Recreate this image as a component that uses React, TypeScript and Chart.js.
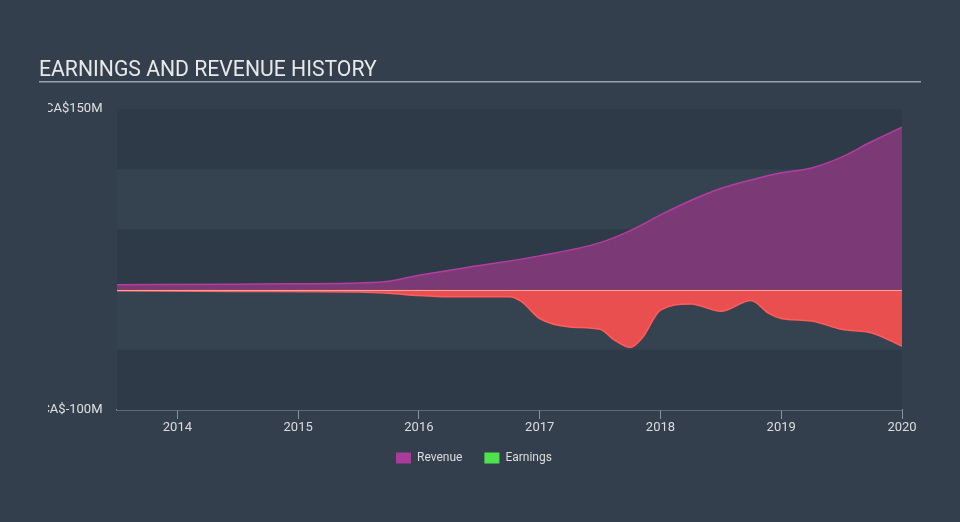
import React, { useEffect, useRef } from "react";
import { Chart, registerables } from "chart.js";

Chart.register(...registerables);

const TITLE = "EARNINGS AND REVENUE HISTORY";
const yTickValues = [150, 100, 50, 0, -50, -100];
const yTickLabels: Record<number, string> = { 150: "CA$150M", [-100]: "CA$-100M" };
const xTickYears = [2014, 2015, 2016, 2017, 2018, 2019, 2020];

const revenueX = [2013.5, 2014.5, 2015.0, 2015.5, 2015.75, 2016.0, 2016.5, 2017.0, 2017.5, 2017.75, 2018.0, 2018.25, 2018.5, 2018.75, 2019.0, 2019.25, 2019.5, 2019.75, 2020.0];
const revenueY = [4, 4.5, 4.8, 5.5, 7, 12, 20, 28, 39, 49, 62, 74, 84, 91, 97, 101, 110, 123, 135];

const earningsX = [2013.5, 2014.5, 2015.5, 2015.75, 2016.0, 2016.25, 2016.75, 2016.85, 2017.0, 2017.25, 2017.5, 2017.62, 2017.75, 2017.85, 2018.0, 2018.25, 2018.5, 2018.75, 2018.9, 2019.0, 2019.25, 2019.5, 2019.75, 2020.0];
const earningsY = [-1, -1.5, -2, -3, -5, -6, -6, -10, -24, -31, -33, -42, -48, -40, -17, -12, -18, -9, -20, -24, -26, -33, -36, -47];

const legendItems = [
  { label: "Revenue", color: "#a83c9b" },
  { label: "Earnings", color: "#4ee34e" },
];

const BG = "#333f4c";

const decorPlugin = {
  id: "decor",
  beforeDatasetsDraw(chart: any) {
    const { ctx, chartArea, scales } = chart;
    const y = scales.y;
    ctx.save();
    for (let i = 0; i < yTickValues.length - 1; i++) {
      const top = y.getPixelForValue(yTickValues[i]);
      const bot = y.getPixelForValue(yTickValues[i + 1]);
      ctx.fillStyle = i % 2 === 0 ? "#2e3a48" : "#354351";
      ctx.fillRect(chartArea.left, top, chartArea.right - chartArea.left, bot - top);
    }
    ctx.restore();
  },
  afterDatasetsDraw(chart: any) {
    const { ctx, chartArea, scales } = chart;
    const y0 = scales.y.getPixelForValue(0);
    ctx.save();
    ctx.strokeStyle = "rgba(250,170,170,0.9)";
    ctx.lineWidth = 1;
    ctx.beginPath();
    ctx.moveTo(chartArea.left, Math.round(y0) + 0.5);
    ctx.lineTo(chartArea.right, Math.round(y0) + 0.5);
    ctx.stroke();
    ctx.restore();
  },
  afterDraw(chart: any) {
    const { ctx, scales } = chart;
    ctx.save();
    // title
    ctx.fillStyle = "#e8e8e8";
    ctx.font = "21.2px Roboto";
    ctx.textBaseline = "alphabetic";
    ctx.textAlign = "left";
    ctx.fillText(TITLE, 39, 76);
    ctx.fillStyle = "#9aa3ad";
    ctx.fillRect(39, 81, 882, 1.5);
    // y labels, clipped
    ctx.beginPath();
    ctx.rect(48, 0, 200, chart.height);
    ctx.clip();
    ctx.fillStyle = "#e0e0e0";
    ctx.font = "13px Roboto";
    ctx.textAlign = "right";
    ctx.textBaseline = "middle";
    for (const v of yTickValues) {
      const lab = yTickLabels[v];
      if (lab) ctx.fillText(lab, 102.5, scales.y.getPixelForValue(v));
    }
    ctx.restore();
    // legend
    ctx.save();
    ctx.font = "12px Roboto";
    ctx.textBaseline = "middle";
    ctx.textAlign = "left";
    let x = 396;
    const cy = 458;
    for (const it of legendItems) {
      ctx.fillStyle = it.color;
      ctx.fillRect(x, cy - 5.5, 15, 11);
      ctx.fillStyle = "#dddddd";
      ctx.fillText(it.label, x + 21, cy);
      x += 21 + ctx.measureText(it.label).width + 22;
    }
    ctx.restore();
  },
};

export default function App() {
  const ref = useRef<HTMLCanvasElement | null>(null);
  useEffect(() => {
    if (!ref.current) return;
    const chart = new Chart(ref.current, {
      type: "line",
      data: {
        datasets: [
          {
            label: "Revenue",
            data: revenueX.map((x, i) => ({ x, y: revenueY[i] })),
            borderColor: "#b23fa0",
            backgroundColor: "#7b3a75",
            borderWidth: 1.5,
            fill: "origin",
            pointRadius: 0,
            cubicInterpolationMode: "monotone",
          },
          {
            label: "Earnings",
            data: earningsX.map((x, i) => ({ x, y: earningsY[i] })),
            borderColor: "#ff5c5c",
            backgroundColor: "#e94f4f",
            borderWidth: 1.5,
            fill: "origin",
            pointRadius: 0,
            cubicInterpolationMode: "monotone",
          },
        ],
      },
      options: {
        animation: false,
        responsive: false,
        maintainAspectRatio: false,
        layout: { padding: { left: 117, right: 58, top: 109, bottom: 72 } },
        plugins: { legend: { display: false }, tooltip: { enabled: false } },
        scales: {
          x: {
            type: "linear",
            min: 2013.5,
            max: 2020.0,
            afterBuildTicks: (s: any) => {
              s.ticks = xTickYears.map((v) => ({ value: v }));
            },
            afterFit: (s: any) => {
              s.height = 40;
            },
            grid: { drawOnChartArea: false, drawTicks: true, tickLength: 9, color: "#8a95a1" },
            border: { display: true, color: "#8a95a1", width: 1.5 },
            ticks: {
              color: "#dddddd",
              font: { family: "Roboto", size: 13 },
              padding: 1,
              maxRotation: 0,
              callback: (v: any) => String(v),
            },
          },
          y: {
            type: "linear",
            min: -100,
            max: 150,
            afterFit: (s: any) => {
              s.width = 0;
            },
            ticks: { display: false, stepSize: 50 },
            grid: { display: false },
            border: { display: false },
          },
        },
      },
      plugins: [decorPlugin],
    } as any);
    return () => chart.destroy();
  }, []);
  return (
    <div style={{ position: "fixed", left: 0, top: 0, width: 960, height: 522, background: BG }}>
      <canvas ref={ref} width={960} height={522} style={{ width: 960, height: 522, display: "block" }} />
    </div>
  );
}
